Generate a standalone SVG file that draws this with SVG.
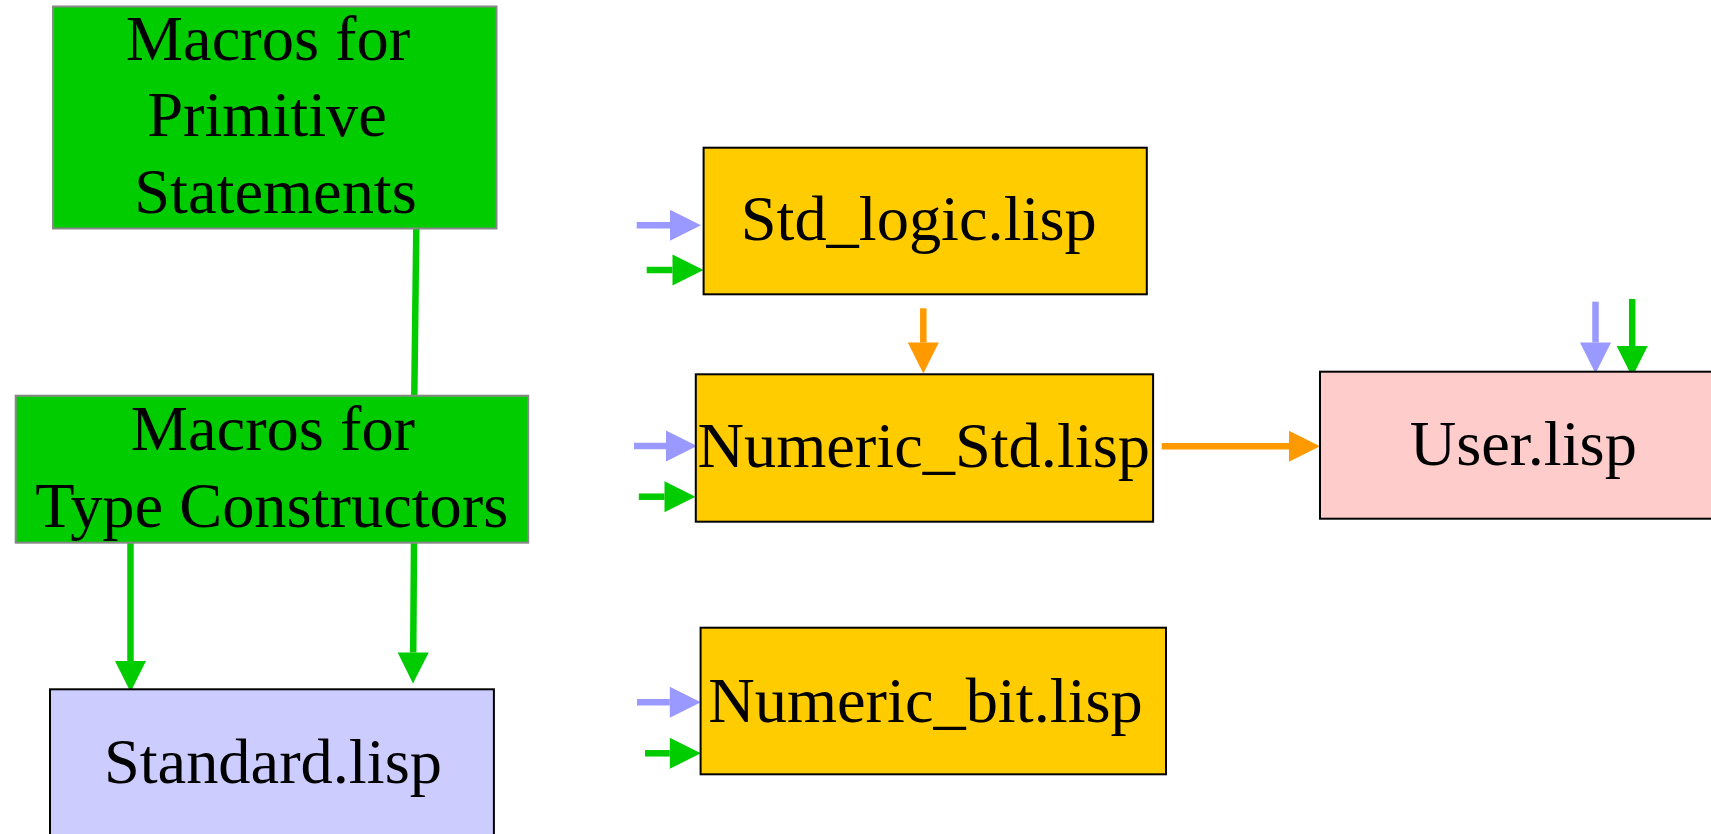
<svg xmlns="http://www.w3.org/2000/svg" width="1711" height="834" viewBox="0 0 1711 834">
  <style>
    .lbl { font-family: "Liberation Serif", "Times New Roman", serif; font-size: 64.4px; fill: #000; text-anchor: middle; }
    .macro { fill: #00cc00; stroke: #888888; stroke-width: 2; }
    .lib { fill: #ffcc00; stroke: #000; stroke-width: 2; }
    .base { fill: #ccccff; stroke: #000; stroke-width: 2; }
    .user { fill: #ffcccc; stroke: #000; stroke-width: 2; }
    .e { fill: none; stroke-width: 6.5; }
    .g { stroke: #00cc00; }
    .v { stroke: #9999ff; }
    .o { stroke: #ff9900; }
  </style>
  <defs>
    <!-- heads start where the shaft ends; tip lies 30px further on -->
    <marker id="ahG" markerUnits="userSpaceOnUse" markerWidth="31" markerHeight="31" refX="0" refY="15.5" orient="auto" overflow="visible">
      <path d="M0,0 L31,15.5 L0,31 z" fill="#00cc00"/>
    </marker>
    <marker id="ahV" markerUnits="userSpaceOnUse" markerWidth="31" markerHeight="31" refX="0" refY="15.5" orient="auto" overflow="visible">
      <path d="M0,0 L31,15.5 L0,31 z" fill="#9999ff"/>
    </marker>
    <marker id="ahO" markerUnits="userSpaceOnUse" markerWidth="31" markerHeight="31" refX="0" refY="15.5" orient="auto" overflow="visible">
      <path d="M0,0 L31,15.5 L0,31 z" fill="#ff9900"/>
    </marker>
  </defs>

  <g id="connectors">
    <line class="e g" x1="416.3" y1="228.3" x2="414.3" y2="395.7"/>
    <line class="e g" x1="130.5" y1="542.7" x2="130.5" y2="661" marker-end="url(#ahG)"/>
    <line class="e g" x1="414" y1="542.7" x2="413.2" y2="652.5" marker-end="url(#ahG)"/>
    <line class="e o" x1="923.3" y1="308.3" x2="923.3" y2="342.5" marker-end="url(#ahO)"/>
    <line class="e o" x1="1161.7" y1="446.3" x2="1289" y2="446.3" marker-end="url(#ahO)"/>
    <line class="e v" x1="636.7" y1="225.3" x2="670" y2="225.3" marker-end="url(#ahV)"/>
    <line class="e g" x1="646.7" y1="270" x2="672.5" y2="270" marker-end="url(#ahG)"/>
    <line class="e v" x1="634" y1="446" x2="666" y2="446" marker-end="url(#ahV)"/>
    <line class="e g" x1="638.8" y1="496.7" x2="664.5" y2="496.7" marker-end="url(#ahG)"/>
    <line class="e v" x1="637" y1="702.3" x2="669.8" y2="702.3" marker-end="url(#ahV)"/>
    <line class="e g" x1="645" y1="753.3" x2="669.8" y2="753.3" marker-end="url(#ahG)"/>
    <line class="e v" x1="1595.5" y1="301.7" x2="1595.5" y2="342.5" marker-end="url(#ahV)"/>
    <line class="e g" x1="1632.2" y1="299" x2="1632.2" y2="346" marker-end="url(#ahG)"/>
  </g>

  <g id="primitive-macros">
    <rect class="macro" x="53" y="6.5" width="443.5" height="222"/>
    <text class="lbl" x="268" y="60">Macros for</text>
    <text class="lbl" x="267" y="136">Primitive</text>
    <text class="lbl" x="275.5" y="213">Statements</text>
  </g>

  <g id="type-constructor-macros">
    <rect class="macro" x="15.7" y="395.7" width="512.5" height="147"/>
    <text class="lbl" x="272.9" y="450">Macros for</text>
    <text class="lbl" x="271.8" y="526.7">Type Constructors</text>
  </g>

  <g id="standard">
    <rect class="base" x="50" y="689.3" width="443.9" height="200"/>
    <text class="lbl" x="272.9" y="782.7">Standard.lisp</text>
  </g>

  <g id="std-logic">
    <rect class="lib" x="703.6" y="147.7" width="443.2" height="146.6"/>
    <text class="lbl" x="918.7" y="240">Std_logic.lisp</text>
  </g>

  <g id="numeric-std">
    <rect class="lib" x="695.8" y="374.3" width="457.3" height="147.4"/>
    <text class="lbl" x="923.7" y="467.3">Numeric_Std.lisp</text>
  </g>

  <g id="numeric-bit">
    <rect class="lib" x="700.6" y="627.7" width="465.4" height="146.6"/>
    <text class="lbl" x="925.5" y="721.7">Numeric_bit.lisp</text>
  </g>

  <g id="user">
    <rect class="user" x="1320" y="371.7" width="420" height="147"/>
    <text class="lbl" x="1523.3" y="465">User.lisp</text>
  </g>
</svg>
